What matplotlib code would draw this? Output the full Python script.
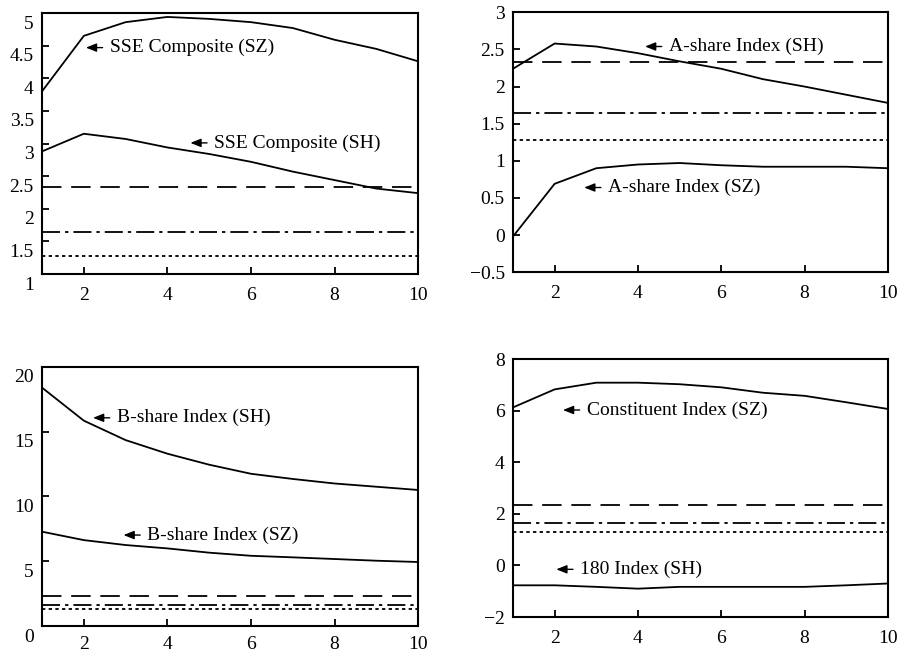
import matplotlib
matplotlib.use("Agg")
import matplotlib.pyplot as plt
import matplotlib.transforms as mtransforms

plt.rcParams['font.family'] = ['Liberation Serif', 'DejaVu Serif']
plt.rcParams['font.size'] = 14
plt.rcParams['lines.scale_dashes'] = False

# horizon (periods)
periods = [1, 2, 3, 4, 5, 6, 7, 8, 9, 10]

# critical values (1%, 5%, 10%)
crit_1 = 2.33
crit_5 = 1.65
crit_10 = 1.28

# top-left panel
sse_sz = [3.80, 4.65, 4.86, 4.94, 4.91, 4.86, 4.77, 4.59, 4.45, 4.26]
sse_sh = [2.88, 3.15, 3.07, 2.94, 2.84, 2.72, 2.57, 2.44, 2.31, 2.24]

# top-right panel
ashare_sh = [2.24, 2.58, 2.54, 2.45, 2.34, 2.24, 2.10, 2.00, 1.89, 1.78]
ashare_sz = [-0.02, 0.69, 0.90, 0.95, 0.97, 0.94, 0.92, 0.92, 0.92, 0.90]

# bottom-left panel
bshare_sh = [18.4, 15.85, 14.35, 13.3, 12.45, 11.75, 11.35, 11.0, 10.75, 10.5]
bshare_sz = [7.28, 6.63, 6.25, 5.99, 5.66, 5.42, 5.30, 5.17, 5.04, 4.94]

# bottom-right panel
constituent_sz = [6.13, 6.83, 7.09, 7.09, 7.03, 6.91, 6.70, 6.58, 6.33, 6.07]
index180_sh = [-0.77, -0.77, -0.83, -0.90, -0.83, -0.83, -0.83, -0.83, -0.77, -0.70]

dash_1 = (0, (14, 7))
dash_5 = (0, (13, 3.6, 2.4, 3.6))
dash_10 = (0, (2.4, 2.4))


def label(ax, x, y, text):
    ax.annotate(text, xy=(x, y), xytext=(17, 0), textcoords='offset points',
                ha='left', va='center', fontsize=14,
                arrowprops=dict(arrowstyle='-|>,head_length=0.45,head_width=0.18',
                                color='k', lw=1.0, shrinkA=3, shrinkB=0,
                                relpos=(0, 0.5)))


def style(ax, ylim, yticks, ylabels, shift_labels=False):
    ax.set_xlim(1, 10)
    ax.set_ylim(*ylim)
    ax.set_xticks([2, 4, 6, 8, 10])
    ax.set_yticks(yticks)
    ax.set_yticklabels(ylabels)
    ax.tick_params(direction='in', length=5, width=1.3, top=False, right=False,
                   labelsize=14)
    ax.tick_params(axis='x', pad=9)
    ax.tick_params(axis='y', pad=6)
    for s in ax.spines.values():
        s.set_linewidth(1.5)
    ax.axhline(crit_1, color='k', lw=1.3, linestyle=dash_1)
    ax.axhline(crit_5, color='k', lw=1.3, linestyle=dash_5)
    ax.axhline(crit_10, color='k', lw=1.3, linestyle=dash_10)
    if shift_labels:
        # scanned original: y labels sit a little below their ticks
        off = mtransforms.ScaledTranslation(0, -9 / 100, ax.figure.dpi_scale_trans)
        for t in ax.get_yticklabels():
            t.set_transform(t.get_transform() + off)


fig = plt.figure(figsize=(9.02, 6.51), dpi=100)
ax1 = fig.add_axes([0.0466, 0.579, 0.417, 0.401])
ax2 = fig.add_axes([0.5687, 0.582, 0.4157, 0.399])
ax3 = fig.add_axes([0.0466, 0.0384, 0.417, 0.398])
ax4 = fig.add_axes([0.5687, 0.0522, 0.4157, 0.396])

# top-left
ax1.plot(periods, sse_sz, color='k', lw=1.3)
ax1.plot(periods, sse_sh, color='k', lw=1.3)
style(ax1, (1, 5), [1, 1.5, 2, 2.5, 3, 3.5, 4, 4.5, 5],
      ['1', '1.5', '2', '2.5', '3', '3.5', '4', '4.5', '5'], shift_labels=True)
label(ax1, 2.05, 4.47, 'SSE Composite (SZ)')
label(ax1, 4.55, 3.01, 'SSE Composite (SH)')

# top-right
ax2.plot(periods, ashare_sh, color='k', lw=1.3)
ax2.plot(periods, ashare_sz, color='k', lw=1.3)
style(ax2, (-0.5, 3), [-0.5, 0, 0.5, 1, 1.5, 2, 2.5, 3],
      ['\u22120.5', '0', '0.5', '1', '1.5', '2', '2.5', '3'])
label(ax2, 4.17, 2.54, 'A-share Index (SH)')
label(ax2, 2.71, 0.64, 'A-share Index (SZ)')

# bottom-left
ax3.plot(periods, bshare_sh, color='k', lw=1.3)
ax3.plot(periods, bshare_sz, color='k', lw=1.3)
style(ax3, (0, 20), [0, 5, 10, 15, 20], ['0', '5', '10', '15', '20'],
      shift_labels=True)
ax3.tick_params(axis='x', pad=7)
label(ax3, 2.22, 16.07, 'B-share Index (SH)')
label(ax3, 2.95, 7.02, 'B-share Index (SZ)')

# bottom-right
ax4.plot(periods, constituent_sz, color='k', lw=1.3)
ax4.plot(periods, index180_sh, color='k', lw=1.3)
style(ax4, (-2, 8), [-2, 0, 2, 4, 6, 8], ['\u22122', '0', '2', '4', '6', '8'])
label(ax4, 2.2, 6.03, 'Constituent Index (SZ)')
label(ax4, 2.04, -0.15, '180 Index (SH)')

fig.savefig('out.png', dpi=100)
